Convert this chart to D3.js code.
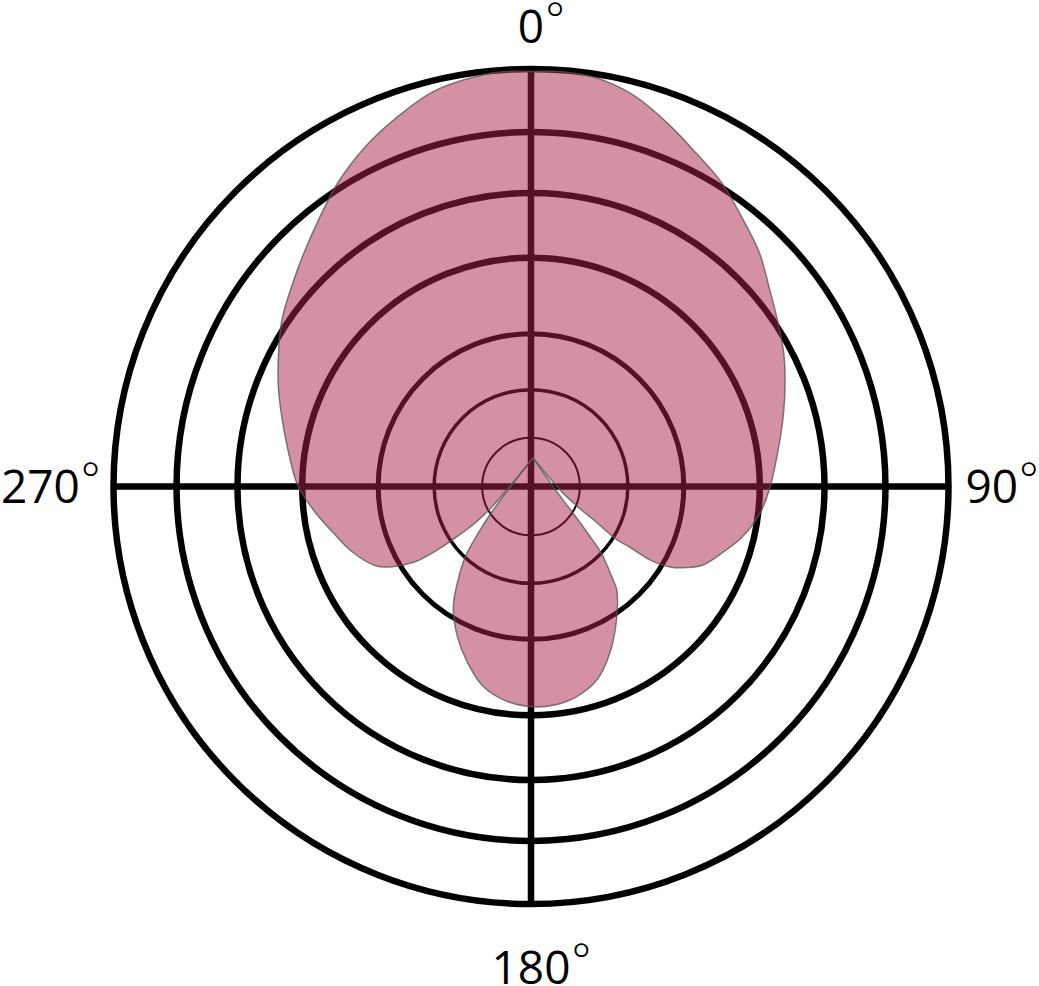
<!DOCTYPE html>
<html>
<head>
<meta charset="utf-8">
<title>Polar pattern</title>
<script src="https://cdn.jsdelivr.net/npm/d3@7"></script>
<style>
    html, body { margin: 0; padding: 0; background: #fff; }
    svg { display: block; }
    text { font-family: "Open Sans", "Noto Sans", sans-serif; fill: #000; }
</style>
</head>
<body>
<svg id="chart"></svg>
<script>
// grid rings, in percent of the outer ring
const ringLevels = [100, 84.9, 70.3, 54.8, 36.6, 23.2, 11.7];

// spokes and their labels (degrees, clockwise from the top)
const axisAngles = [0, 90, 180, 270];
const axisLabels = ["0", "90", "180", "270"];

// front lobe: from the null point out along the lower-left edge,
// over the top and back in along the lower-right edge
const frontAngles = [-141.5, -140.7, -140.0, -138.3, -136.0, -134.4, -132.5, -131.4, -127.7, -124.4,
    -117.4, -110.2, -103.9, -96.8, -88.6, -81.2, -74.2, -67.4, -61.0, -50.7,
    -43.2, -35.2, -28.3, -21.5, -15.4, -10.2, -5.2, 0, 4.4, 9.5,
    15.2, 21.6, 28.2, 34.5, 41.0, 47.8, 54.1, 60.6, 67.3, 74.3,
    81.4, 88.8, 96.9, 103.6, 110.6, 116.6, 122.2, 125.5, 128.5, 131.1,
    132.5, 134.4, 135.5, 137.4, 139.4, 141.0];
const frontLevels = [0, 6.7, 15.3, 20.8, 26.1, 30.4, 35.2, 37.6, 42.6, 45.7,
    48.8, 51.2, 53.8, 56.7, 58.6, 60.8, 63.4, 66.0, 68.7, 72.5,
    76.1, 80.9, 84.7, 88.0, 90.9, 92.1, 92.8, 92.6, 92.8, 92.3,
    90.3, 86.6, 82.8, 79.9, 76.3, 73.2, 69.8, 67.2, 65.1, 62.7,
    60.5, 58.6, 57.2, 56.0, 53.6, 50.7, 48.1, 45.2, 41.9, 37.1,
    32.0, 27.4, 21.0, 15.9, 11.0, 0];

// rear lobe: from the null point round the bottom and back
const rearAngles = [142.0, 144.5, 144.0, 144.0, 144.3, 146.7, 147.5, 152.6, 158.5, 163.9,
    169.6, 174.5, 180.0, 186.1, 192.3, 197.8, 203.0, 208.2, 211.6, 214.3,
    216.0, 217.3, 218.0, 218.5];
const rearLevels = [0, 12.4, 16.3, 22.5, 28.0, 34.9, 37.3, 43.5, 50.2, 55.3,
    58.1, 59.3, 59.6, 58.6, 56.0, 51.4, 46.4, 40.4, 34.2, 29.0,
    22.7, 16.5, 9.8, 0];

const width = 1039;
const height = 986;
const cx = 531;
const cy = 486.5;
const R = 417.5;

// the pattern's own origin sits a little above the grid centre
const patternShift = { x: 2, y: -28.5 };

const r = d3.scaleLinear().domain([0, 100]).range([0, R]);
const angle = d3.scaleLinear().domain([0, 360]).range([0, 2 * Math.PI]);

const svg = d3.select('#chart')
    .attr('width', width)
    .attr('height', height);

const g = svg.append('g')
    .attr('transform', `translate(${cx},${cy})`);

// rings (the inner ones get thinner)
const ringStroke = [6.5, 6.5, 6.5, 6.5, 5, 3.5, 2];
g.selectAll('circle.ring')
    .data(ringLevels)
    .join('circle')
    .attr('class', 'ring')
    .attr('r', d => r(d))
    .attr('fill', 'none')
    .attr('stroke', '#000')
    .attr('stroke-width', (d, i) => ringStroke[i]);

// spokes
g.selectAll('line.spoke')
    .data(axisAngles)
    .join('line')
    .attr('class', 'spoke')
    .attr('x1', 0)
    .attr('y1', 0)
    .attr('x2', d => r(100) * Math.sin(angle(d)))
    .attr('y2', d => -r(100) * Math.cos(angle(d)))
    .attr('stroke', '#000')
    .attr('stroke-width', 6.5);

// pattern
const radial = d3.lineRadial()
    .angle(d => angle(d[0]))
    .radius(d => r(d[1]))
    .curve(d3.curveCatmullRom.alpha(0.5));

const lobes = [
    d3.zip(frontAngles, frontLevels),
    d3.zip(rearAngles, rearLevels)
];

g.append('g')
    .attr('transform', `translate(${patternShift.x},${patternShift.y})`)
    .selectAll('path')
    .data(lobes)
    .join('path')
    .attr('d', d => radial(d) + 'Z')
    .attr('fill', '#aa244a')
    .attr('fill-opacity', 0.5)
    .attr('stroke', '#555')
    .attr('stroke-opacity', 0.75)
    .attr('stroke-width', 1.5);

// labels
const labelPlace = {
    0:   { x: 0, y: -R - 26, align: 'digits' },
    90:  { x: R + 17, y: 16, align: 'start' },
    180: { x: 0, y: R + 80, align: 'digits' },
    270: { x: -R - 14, y: 16, align: 'end' }
};

axisAngles.forEach((a, i) => {
    const p = labelPlace[a];
    const t = g.append('text')
        .attr('y', p.y)
        .style('font-size', '46px');
    const digits = t.append('tspan').text(axisLabels[i]);
    t.append('tspan')
        .attr('dx', 1)
        .attr('dy', -7)
        .style('font-weight', 300)
        .text('°');
    const dw = digits.node().getComputedTextLength();
    const tw = t.node().getComputedTextLength();
    let x = p.x;
    if (p.align === 'digits') x = p.x - dw / 2;
    if (p.align === 'end') x = p.x - tw;
    t.attr('x', x);
    digits.attr('x', x);
});
</script>
</body>
</html>
